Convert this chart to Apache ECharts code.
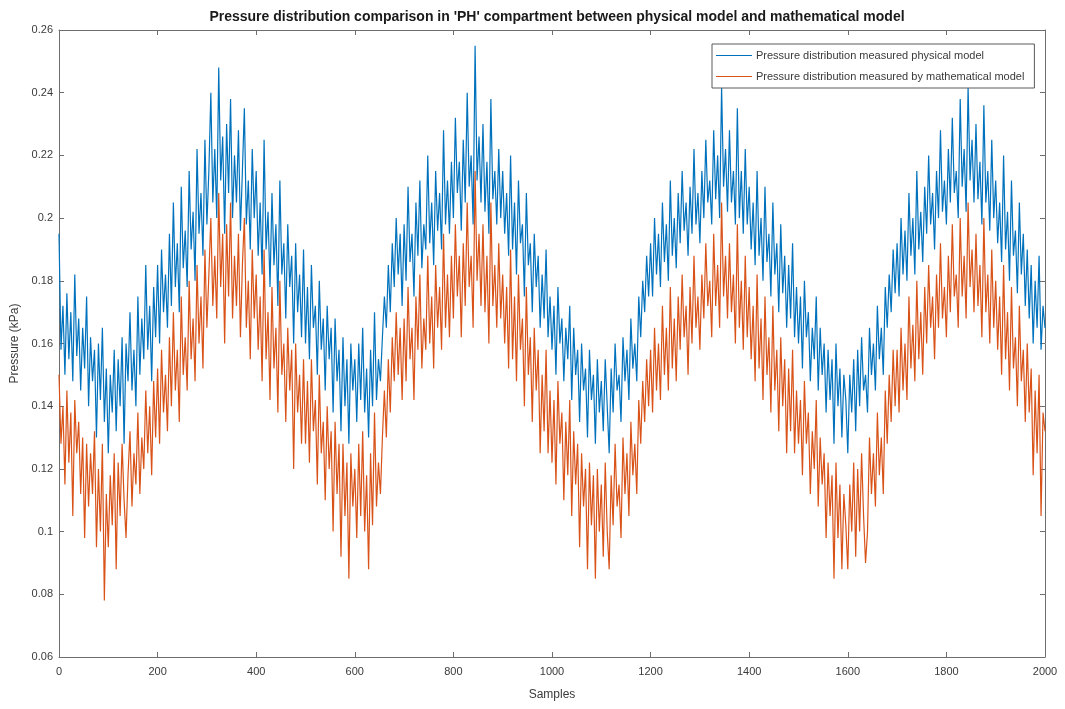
<!DOCTYPE html>
<html>
<head>
<meta charset="utf-8">
<script src="https://cdn.jsdelivr.net/npm/echarts@6/dist/echarts.min.js"></script>
<style>
  html, body { margin: 0; padding: 0; background: #fff; }
  #chart { width: 1065px; height: 709px; }
</style>
</head>
<body>
<div id="chart"></div>
<script>
// Pressure readings, one value every 4 samples (sample 0 .. 2000)
const sampleStep = 4;

const physicalModel = [
  .195,.158,.172,.150,.176, .155,.170,.148,.182,.156, .168,.145,.165,.152,.175, .140,.162,.148,.158,.130, .160,.142,.165,.135,.152,
  .125,.150,.138,.158,.132, .155,.140,.162,.128,.160, .148,.170,.145,.158,.140, .175,.150,.168,.155,.185, .158,.172,.148,.178,.162,
  .185,.160,.190,.170,.182, .165,.195,.172,.205,.178, .192,.170,.210,.184,.196, .178,.215,.190,.202,.180, .222,.195,.208,.188,.225,
  .198,.215,.240,.205,.222, .200,.248,.212,.226,.195, .230,.208,.238,.200,.220, .205,.228,.196,.215,.235, .198,.212,.190,.222,.200,
  .215,.188,.205,.182,.225, .190,.202,.178,.208,.185, .198,.172,.212,.182,.192, .168,.198,.178,.188,.160, .192,.170,.182,.162,.190,
  .160,.178,.155,.185,.165, .172,.150,.180,.158,.168, .145,.172,.155,.165,.138, .168,.148,.158,.132,.162, .140,.155,.128,.160,.145,
  .155,.135,.160,.142,.165, .138,.152,.130,.158,.140, .170,.142,.155,.148,.162, .175,.165,.185,.170,.192, .178,.200,.182,.195,.172,
  .198,.180,.210,.186,.195, .175,.205,.188,.212,.184, .198,.190,.220,.192,.205, .185,.215,.196,.208,.190, .228,.198,.212,.195,.218,
  .200,.232,.208,.218,.196, .225,.205,.240,.210,.220, .198,.255,.212,.226,.205, .230,.202,.218,.195,.238, .206,.215,.198,.222,.200,
  .215,.195,.208,.188,.220, .190,.205,.182,.212,.192, .198,.175,.208,.185,.192, .170,.195,.178,.188,.165, .182,.168,.190,.162,.175,
  .158,.172,.150,.178,.160, .168,.148,.165,.155,.172, .142,.165,.150,.158,.135, .160,.145,.152,.130,.158, .142,.150,.128,.155,.138,
  .148,.132,.155,.140,.125, .152,.138,.160,.145,.150, .135,.162,.148,.158,.142, .168,.152,.160,.148,.175, .162,.180,.170,.188,.175,
  .192,.175,.200,.182,.195, .178,.205,.186,.198,.180, .212,.188,.200,.184,.208, .192,.215,.196,.205,.188, .210,.195,.222,.198,.208,
  .192,.215,.200,.225,.205, .212,.198,.228,.206,.220, .200,.242,.210,.222,.202, .228,.205,.215,.198,.235, .200,.215,.195,.222,.198,
  .210,.190,.205,.185,.215, .188,.200,.180,.210,.186, .195,.175,.205,.182,.192, .170,.198,.176,.188,.165, .185,.168,.192,.162,.178,
  .160,.175,.152,.180,.162, .170,.148,.165,.155,.175, .145,.165,.150,.160,.138, .158,.142,.155,.128,.160, .140,.152,.130,.150,.142,
  .125,.150,.138,.155,.132, .158,.140,.162,.145,.150, .138,.165,.150,.160,.145, .172,.155,.165,.150,.178, .165,.182,.170,.190,.176,
  .192,.175,.200,.182,.196, .180,.208,.188,.200,.182, .215,.190,.202,.186,.210, .195,.220,.198,.208,.190, .215,.200,.228,.202,.212,
  .198,.222,.205,.232,.208, .215,.200,.238,.210,.222, .202,.242,.212,.225,.205, .230,.206,.218,.198,.236, .205,.215,.196,.225,.200,
  .212,.192,.205,.186,.220, .190,.202,.180,.212,.188, .196,.176,.205,.182,.195, .172,.190,.168,.185,.160, .180,.165,.188,.158,.172,
  .165
];

const mathematicalModel = [
  .150,.128,.140,.115,.145, .122,.138,.105,.142,.125, .135,.112,.130,.098,.128, .108,.125,.112,.132,.095, .120,.100,.128,.078,.112,
  .095,.118,.102,.125,.088, .122,.105,.128,.110,.098, .118,.132,.108,.125,.115, .138,.112,.130,.120,.145, .125,.140,.118,.148,.130,
  .152,.128,.158,.138,.150, .132,.162,.140,.170,.145, .158,.135,.175,.150,.162, .145,.180,.155,.168,.148, .185,.160,.175,.152,.190,
  .165,.182,.200,.172,.188, .168,.208,.178,.195,.160, .198,.175,.205,.168,.188, .172,.195,.162,.185,.200, .165,.180,.155,.190,.168,
  .182,.158,.175,.148,.190, .155,.170,.142,.178,.152, .165,.138,.180,.150,.160, .135,.165,.145,.158,.120, .160,.138,.150,.128,.155,
  .128,.148,.122,.155,.132, .142,.115,.150,.125,.135, .110,.140,.120,.132,.100, .135,.112,.128,.092,.128, .105,.122,.085,.125,.108,
  .120,.098,.128,.105,.132, .100,.118,.088,.125,.102, .138,.108,.122,.112,.130, .145,.130,.155,.138,.162, .148,.170,.150,.165,.142,
  .168,.148,.178,.155,.165, .142,.175,.158,.182,.152, .168,.158,.188,.160,.175, .152,.185,.165,.178,.158, .195,.165,.182,.162,.188,
  .168,.198,.175,.188,.162, .192,.172,.205,.178,.188, .165,.215,.180,.195,.172, .198,.170,.188,.160,.205, .172,.185,.165,.192,.168,
  .182,.160,.178,.152,.190, .155,.175,.148,.182,.158, .168,.140,.178,.150,.162, .135,.165,.145,.158,.125, .150,.132,.158,.125,.145,
  .122,.142,.115,.148,.128, .138,.110,.135,.118,.142, .105,.132,.115,.128,.095, .125,.108,.120,.088,.122, .102,.118,.085,.120,.100,
  .115,.092,.122,.100,.088, .118,.102,.128,.108,.115, .098,.130,.112,.125,.105, .135,.118,.128,.112,.142, .128,.148,.135,.155,.140,
  .158,.138,.165,.145,.160, .142,.172,.150,.165,.145, .178,.152,.168,.148,.175, .158,.182,.162,.172,.150, .178,.160,.188,.165,.175,
  .158,.182,.168,.192,.172, .180,.162,.195,.172,.185, .165,.205,.175,.188,.168, .192,.170,.182,.160,.198, .165,.180,.158,.188,.162,
  .178,.155,.172,.148,.182, .152,.168,.142,.175,.150, .162,.138,.172,.145,.158, .132,.162,.140,.155,.125, .152,.132,.158,.125,.145,
  .128,.142,.118,.148,.128, .138,.112,.132,.120,.142, .108,.130,.115,.125,.098, .122,.105,.118,.085,.122, .098,.115,.088,.112,.102,
  .088,.115,.100,.122,.092, .120,.100,.125,.105,.090, .100,.130,.112,.125,.108, .138,.118,.130,.112,.145, .128,.150,.135,.158,.140,
  .158,.138,.165,.145,.160, .142,.175,.152,.166,.148, .180,.155,.170,.150,.178, .160,.185,.165,.175,.155, .182,.165,.192,.168,.178,
  .162,.188,.170,.198,.175, .182,.165,.200,.175,.188, .168,.205,.178,.190,.170, .195,.172,.185,.162,.200, .170,.182,.160,.190,.165,
  .180,.158,.175,.150,.185, .155,.170,.145,.178,.152, .162,.140,.172,.148,.158, .135,.160,.138,.152,.118, .145,.125,.150,.105,.138,
  .132
];

const seriesNames = [
  'Pressure distribution measured physical model',
  'Pressure distribution measured by mathematical model'
];
const titleText = "Pressure distribution comparison in 'PH' compartment between physical model and mathematical model";
const xTicks = { min: 0, max: 2000, interval: 200 };
const yTicks = { min: 0.06, max: 0.26, interval: 0.02 };

const toPairs = arr => arr.map((v, i) => [i * sampleStep, v]);

const axisColor = '#6e6e6e';
const textColor = '#3a3a3a';
const fontFamily = '"Liberation Sans", Arial, sans-serif';

// full box: labelled axes bottom/left, bare tick rails top/right
const boxAxis = (pos, ticks, isX, showLabel) => ({
  type: 'value',
  position: pos,
  min: ticks.min,
  max: ticks.max,
  interval: ticks.interval,
  axisLine: { show: true, onZero: false, lineStyle: { color: axisColor, width: 1 } },
  axisTick: { show: true, inside: true, length: 5, lineStyle: { color: axisColor } },
  axisLabel: {
    show: showLabel,
    color: textColor,
    fontSize: 11,
    fontFamily: fontFamily,
    margin: isX ? 9 : 6,
    formatter: v => String(+v.toFixed(2))
  },
  splitLine: { show: false }
});

const chart = echarts.init(document.getElementById('chart'), null, { renderer: 'canvas' });

chart.setOption({
  animation: false,
  backgroundColor: '#ffffff',
  color: ['#0072BD', '#D95319'],
  title: {
    text: titleText,
    left: 552,
    textAlign: 'center',
    top: 5,
    textStyle: { fontSize: 14, fontWeight: 'bold', color: '#1a1a1a', fontFamily: fontFamily }
  },
  grid: { left: 59, right: 20, top: 30, bottom: 52, containLabel: false },
  legend: {
    orient: 'vertical',
    left: 712,
    top: 44,
    padding: [6, 10, 6, 4],
    itemGap: 10,
    itemWidth: 36,
    itemHeight: 1,
    icon: 'rect',
    backgroundColor: '#ffffff',
    borderColor: '#5a5a5a',
    borderWidth: 1,
    borderRadius: 0,
    textStyle: { fontSize: 11, color: textColor, fontFamily: fontFamily, padding: [0, 0, 0, -1] },
    data: seriesNames
  },
  xAxis: [
    Object.assign(boxAxis('bottom', xTicks, true, true), {
      name: 'Samples',
      nameLocation: 'middle',
      nameGap: 32,
      nameTextStyle: { fontSize: 12, color: textColor, fontFamily: fontFamily }
    }),
    boxAxis('top', xTicks, true, false)
  ],
  yAxis: [
    Object.assign(boxAxis('left', yTicks, false, true), {
      name: 'Pressure (kPa)',
      nameLocation: 'middle',
      nameGap: 36,
      nameTextStyle: { fontSize: 12, color: textColor, fontFamily: fontFamily }
    }),
    boxAxis('right', yTicks, false, false)
  ],
  series: [
    {
      name: seriesNames[0],
      type: 'line',
      xAxisIndex: 0,
      yAxisIndex: 0,
      data: toPairs(physicalModel),
      showSymbol: false,
      symbol: 'none',
      lineStyle: { width: 1.2, color: '#0072BD' },
      z: 2
    },
    {
      name: seriesNames[1],
      type: 'line',
      xAxisIndex: 0,
      yAxisIndex: 0,
      data: toPairs(mathematicalModel),
      showSymbol: false,
      symbol: 'none',
      lineStyle: { width: 1.2, color: '#D95319' },
      z: 3
    }
  ]
});
</script>
</body>
</html>
